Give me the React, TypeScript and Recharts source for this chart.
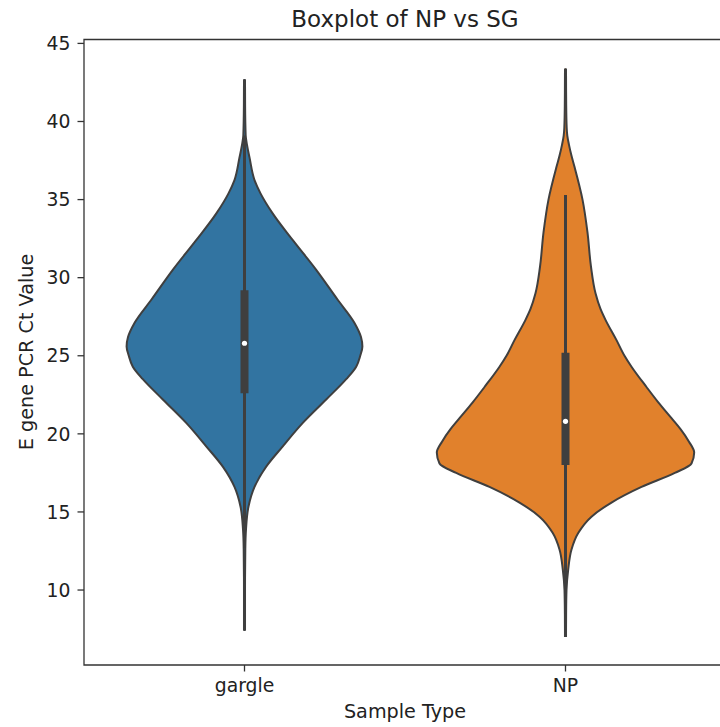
import React from 'react';
import {
  ComposedChart,
  Area,
  XAxis,
  YAxis,
  ReferenceLine,
  ReferenceDot,
  ReferenceArea,
} from 'recharts';

// ---------- data ----------
const categories = ['gargle', 'NP'];
const yTicks = [10, 15, 20, 25, 30, 35, 40, 45];

// violin outline: Ct levels and half-widths (in category units)
const gargleCt = [7.4, 10.0, 12.6, 13.9, 15.35, 16.6, 17.9, 19.2, 20.7, 22.2, 23.5, 24.3, 25.0, 25.6, 26.2, 27.1, 28.6, 30.5, 32.4, 34.1, 35.4, 36.25, 37.7, 38.5, 39.1, 41.0, 42.7];
const gargleHalfWidth = [0.0016, 0.0016, 0.0025, 0.0047, 0.0125, 0.0312, 0.0676, 0.1193, 0.1816, 0.2545, 0.3168, 0.348, 0.3605, 0.3673, 0.3629, 0.3427, 0.2897, 0.2234, 0.1505, 0.0882, 0.0498, 0.0312, 0.0156, 0.0078, 0.0037, 0.0019, 0.0016];

const npCt = [7.0, 8.5, 10.0, 11.3, 12.6, 13.65, 14.7, 15.6, 16.6, 17.5, 18.1, 18.8, 19.5, 20.3, 21.0, 22.0, 23.0, 24.3, 25.0, 26.0, 27.3, 28.0, 29.0, 30.7, 32.9, 35.0, 37.1, 37.8, 38.5, 39.1, 39.6, 41.0, 43.4];
const npHalfWidth = [0.0016, 0.0019, 0.0031, 0.0084, 0.0187, 0.0396, 0.081, 0.1433, 0.2368, 0.3405, 0.3925, 0.4009, 0.3847, 0.3583, 0.3302, 0.2897, 0.2523, 0.2056, 0.1838, 0.1589, 0.1246, 0.109, 0.0935, 0.0794, 0.0685, 0.053, 0.028, 0.0187, 0.0109, 0.0056, 0.0037, 0.0022, 0.0016];

// inner box statistics per category
const boxQ1 = [22.6, 18.0];
const boxMedian = [25.8, 20.8];
const boxQ3 = [29.2, 25.2];
const whiskerLow = [12.7, 8.5];
const whiskerHigh = [39.1, 35.3];

const fills = ['#3274a1', '#e1812c'];
const outline = '#3f3f3f';
const FONT = 'DejaVu Sans';

const yDomain: [number, number] = [5.2, 45.25];
const xDomain: [number, number] = [-0.5, 1.5];

function buildViolin(ct: number[], hw: number[], center: number) {
  return ct.map((c, i) => ({ ct: c, range: [center - hw[i], center + hw[i]] }));
}

const violins = [
  buildViolin(gargleCt, gargleHalfWidth, 0),
  buildViolin(npCt, npHalfWidth, 1),
];

export default function App() {
  return (
    <div
      style={{
        position: 'absolute',
        left: 0,
        top: 0,
        width: 720,
        height: 727,
        overflow: 'hidden',
        background: '#fff',
      }}
    >
      <ComposedChart
        width={730}
        height={727}
        layout="vertical"
        margin={{ top: 39.5, right: 4, bottom: 22, left: 0 }}
      >
        <XAxis
          type="number"
          dataKey="range"
          domain={xDomain}
          ticks={[0, 1]}
          allowDataOverflow
          tickFormatter={(v: number) => categories[v]}
          axisLine={false}
          tickSize={6.5}
          tickMargin={7}
          height={40}
          tick={{ fill: '#222', fontSize: 18.8, fontFamily: FONT }}
          tickLine={{ stroke: '#333', strokeWidth: 1.3 }}
        />
        <YAxis
          type="number"
          dataKey="ct"
          domain={yDomain}
          reversed
          ticks={yTicks}
          allowDataOverflow
          axisLine={false}
          width={84}
          tickSize={6.5}
          tickMargin={7}
          tick={{ fill: '#222', fontSize: 18.8, fontFamily: FONT }}
          tickLine={{ stroke: '#333', strokeWidth: 1.3 }}
        />
        {violins.map((d, i) => (
          <Area
            key={categories[i]}
            data={d}
            dataKey="range"
            type="monotone"
            fill={fills[i]}
            fillOpacity={1}
            stroke={outline}
            strokeWidth={2}
            isAnimationActive={false}
            dot={false}
            activeDot={false}
          />
        ))}
        {categories.map((c, i) => (
          <ReferenceLine
            key={c + '-w'}
            segment={[
              { x: i, y: whiskerLow[i] },
              { x: i, y: whiskerHigh[i] },
            ]}
            stroke={outline}
            strokeWidth={3}
          />
        ))}
        {categories.map((c, i) => (
          <ReferenceLine
            key={c + '-b'}
            segment={[
              { x: i, y: boxQ1[i] },
              { x: i, y: boxQ3[i] },
            ]}
            stroke={outline}
            strokeWidth={8}
          />
        ))}
        {categories.map((c, i) => (
          <ReferenceDot
            key={c + '-m'}
            x={i}
            y={boxMedian[i]}
            r={2.6}
            fill="#ffffff"
            stroke="none"
          />
        ))}
        <ReferenceArea
          x1={xDomain[0]}
          x2={xDomain[1]}
          y1={yDomain[0]}
          y2={yDomain[1]}
          fill="none"
          fillOpacity={0}
          stroke="#333"
          strokeWidth={1.3}
          ifOverflow="visible"
        />
      </ComposedChart>
      <svg
        width={720}
        height={727}
        style={{ position: 'absolute', left: 0, top: 0, pointerEvents: 'none' }}
      >
        <text x={405} y={27} textAnchor="middle" fontFamily={FONT} fontSize={23} fill="#222">
          Boxplot of NP vs SG
        </text>
        <text x={405} y={718} textAnchor="middle" fontFamily={FONT} fontSize={19.2} fill="#222">
          Sample Type
        </text>
        <text
          x={0}
          y={0}
          transform="translate(32.7,352) rotate(-90)"
          textAnchor="middle"
          fontFamily={FONT}
          fontSize={19.2}
          fill="#222"
        >
          E gene PCR Ct Value
        </text>
      </svg>
    </div>
  );
}
